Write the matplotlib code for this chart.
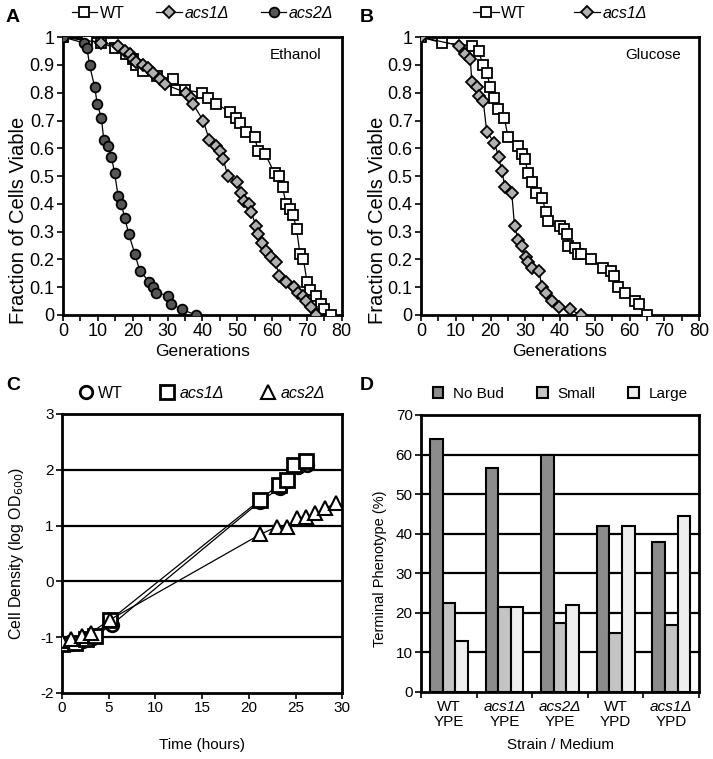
import numpy as np
import matplotlib
matplotlib.use("Agg")
import matplotlib.pyplot as plt
from matplotlib.ticker import MultipleLocator, FormatStrFormatter

plt.rcParams["font.family"] = ["Liberation Sans", "DejaVu Sans"]
plt.rcParams["font.size"] = 11
plt.rcParams["axes.unicode_minus"] = False

# --- A: Ethanol lifespan ---
a_wt_x = [0, 7, 11, 15, 18, 20, 21, 23, 27, 31.5, 32.5, 35, 40, 41.5, 44, 48, 49.7, 50.7, 52.6, 55, 56,
          58, 60.7, 62, 63, 64, 65, 66, 67, 68, 69, 70, 71, 72.6, 74, 75, 77]
a_wt_y = [1.0, 0.99, 0.98, 0.96, 0.94, 0.92, 0.90, 0.88, 0.86, 0.85, 0.81, 0.81, 0.80, 0.78, 0.76, 0.73,
          0.71, 0.69, 0.66, 0.64, 0.59, 0.58, 0.51, 0.50, 0.46, 0.40, 0.38, 0.36, 0.31, 0.22, 0.20, 0.12,
          0.09, 0.07, 0.04, 0.02, 0.0]
a_acs1_x = [0, 11, 15.8, 17.7, 19.1, 20, 21, 23, 24.4, 25.8, 27.7, 29.2, 35.4, 36.8, 37.3, 40.2, 42, 44,
            45, 46, 47.3, 50, 51, 52, 53.4, 54, 55.4, 56, 57, 58.3, 59.7, 61, 62, 63.9, 66.4, 67.4, 68.8,
            69.8, 71.2, 72.7]
a_acs1_y = [1.0, 0.98, 0.97, 0.95, 0.94, 0.92, 0.91, 0.90, 0.89, 0.87, 0.85, 0.83, 0.80, 0.78, 0.76,
            0.70, 0.63, 0.61, 0.59, 0.56, 0.50, 0.48, 0.44, 0.41, 0.40, 0.37, 0.32, 0.29, 0.26, 0.23,
            0.21, 0.19, 0.14, 0.12, 0.10, 0.08, 0.07, 0.05, 0.03, 0.0]
a_acs2_x = [0, 5.9, 6.9, 7.6, 9.1, 9.8, 11, 11.7, 12.9, 13.9, 14.8, 15.8, 16.7, 17.7, 18.9, 20.6, 22,
            24.7, 25.8, 26.8, 30.1, 31.1, 34, 38.2]
a_acs2_y = [1.0, 0.98, 0.96, 0.90, 0.82, 0.76, 0.71, 0.63, 0.61, 0.57, 0.51, 0.43, 0.40, 0.35, 0.29,
            0.22, 0.16, 0.12, 0.10, 0.08, 0.07, 0.04, 0.02, 0.0]

# --- B: Glucose lifespan ---
b_wt_x = [0, 6, 14.6, 16.7, 17.7, 19, 19.9, 20.9, 22.1, 24, 25, 27.8, 29, 30, 30.7, 31.9, 33, 34.9,
          35.9, 36.6, 40, 41, 42, 42.4, 44.3, 45.3, 46, 48.9, 52.4, 54.6, 55.6, 56.7, 58.6, 61.5, 62.7,
          64.9]
b_wt_y = [1.0, 0.98, 0.97, 0.95, 0.90, 0.87, 0.82, 0.78, 0.74, 0.71, 0.64, 0.61, 0.58, 0.56, 0.51,
          0.48, 0.44, 0.42, 0.37, 0.34, 0.32, 0.31, 0.29, 0.25, 0.24, 0.22, 0.22, 0.20, 0.17, 0.16,
          0.14, 0.10, 0.08, 0.05, 0.04, 0.0]
b_acs1_x = [0, 11, 12.7, 14.2, 14.6, 16.1, 16.7, 17.9, 18.9, 21.1, 22.3, 23.2, 24.2, 26.1, 26.9, 28,
            29, 30.1, 30.9, 31.9, 34, 34.7, 35.9, 37.6, 39.7, 42.9, 45.9]
b_acs1_y = [1.0, 0.97, 0.94, 0.92, 0.84, 0.82, 0.79, 0.77, 0.66, 0.62, 0.57, 0.52, 0.46, 0.44, 0.32,
            0.27, 0.25, 0.21, 0.19, 0.17, 0.16, 0.10, 0.08, 0.05, 0.03, 0.02, 0.0]

# --- C: growth ---
c_wt_t = [0, 1, 2.2, 3.3, 5.3, 21.2, 23.3, 24.1, 25.3, 26.2]
c_wt_od = [-1.13, -1.13, -1.07, -1.01, -0.78, 1.43, 1.67, 1.79, 2.05, 2.09]
c_acs1_t = [0, 1.4, 2.6, 3.5, 5.1, 21.2, 23.2, 24.1, 24.8, 26.1]
c_acs1_od = [-1.13, -1.10, -1.04, -0.98, -0.70, 1.46, 1.73, 1.82, 2.09, 2.15]
c_acs2_t = [0, 1, 2.1, 3.1, 5.1, 21.2, 23, 24.1, 25.2, 26.1, 27.1, 28.2, 29.3]
c_acs2_od = [-1.07, -1.04, -0.98, -0.92, -0.69, 0.84, 0.98, 0.98, 1.13, 1.16, 1.22, 1.31, 1.40]

# --- D: terminal phenotype ---
d_strain = ["WT", "acs1Δ", "acs2Δ", "WT", "acs1Δ"]
d_medium = ["YPE", "YPE", "YPE", "YPD", "YPD"]
d_nobud = [64, 56.7, 60, 42, 38]
d_small = [22.5, 21.5, 17.5, 15, 16.8]
d_large = [13, 21.5, 22, 42, 44.5]

fig = plt.figure(figsize=(7.13, 7.59), dpi=100)
axA = fig.add_axes([0.0884, 0.585, 0.391, 0.366])
axB = fig.add_axes([0.5905, 0.585, 0.390, 0.366])
axC = fig.add_axes([0.087, 0.087, 0.393, 0.3676])
axD = fig.add_axes([0.5905, 0.0883, 0.390, 0.365])

diam_c = "#b0b0b0"
circ_c = "#555555"


def style_axes(ax, tsize):
    for s in ax.spines.values():
        s.set_linewidth(2)
    ax.tick_params(direction="out", width=1.2, length=4, labelsize=tsize, pad=2)
    ax.tick_params(which="minor", direction="out", width=1.2, length=4)


def place_labels(ax, xl, yl, xs, ys, ymid=0.5):
    ax.xaxis.set_label_coords(0.5, -xl)
    ax.xaxis.label.set_va("center")
    ax.xaxis.label.set_fontsize(xs)
    ax.yaxis.set_label_coords(-yl, ymid)
    ax.yaxis.label.set_va("center")
    ax.yaxis.label.set_fontsize(ys)


def italic_legend(leg):
    for t in leg.get_texts():
        if t.get_text().startswith("acs"):
            t.set_style("italic")


def survival(ax, series, text, colsp):
    for x, y, kw in series:
        ax.plot(x, y, color="black", lw=0.9, mec="black", mew=1.3, **kw)
    ax.set_xlim(0, 80)
    ax.set_ylim(0, 1)
    ax.xaxis.set_major_locator(MultipleLocator(10))
    ax.xaxis.set_minor_locator(MultipleLocator(5))
    ax.yaxis.set_major_locator(MultipleLocator(0.1))
    ax.yaxis.set_major_formatter(FormatStrFormatter("%g"))
    ax.set_xlabel("Generations")
    ax.set_ylabel("Fraction of Cells Viable")
    ax.text(0.835, 0.935, text, transform=ax.transAxes, ha="center", va="center", fontsize=11)
    style_axes(ax, 13)
    leg = ax.legend(loc="center", bbox_to_anchor=(0.5, 1.086), ncol=len(series), frameon=False,
                    handlelength=1.6, columnspacing=colsp, handletextpad=0.15, borderaxespad=0,
                    fontsize=11.5)
    italic_legend(leg)


survival(axA, [
    (a_wt_x, a_wt_y, dict(marker="s", ms=7, mfc="white", label="WT", zorder=3)),
    (a_acs1_x, a_acs1_y, dict(marker="D", ms=6.5, mfc=diam_c, label="acs1Δ", zorder=4)),
    (a_acs2_x, a_acs2_y, dict(marker="o", ms=7, mfc=circ_c, label="acs2Δ", zorder=5)),
], "Ethanol", 2.0)
place_labels(axA, 0.133, 0.161, 12.5, 14.5, 0.34)

survival(axB, [
    (b_wt_x, b_wt_y, dict(marker="s", ms=7, mfc="white", label="WT", zorder=3)),
    (b_acs1_x, b_acs1_y, dict(marker="D", ms=6.5, mfc=diam_c, label="acs1Δ", zorder=4)),
], "Glucose", 3.0)
place_labels(axB, 0.133, 0.155, 12.5, 14.5, 0.34)

# C
axC.plot(c_wt_t, c_wt_od, color="black", lw=0.9, marker="o", ms=9, mfc="white", mec="black",
         mew=2, label="WT", zorder=3)
axC.plot(c_acs1_t, c_acs1_od, color="black", lw=0.9, marker="s", ms=9.5, mfc="white", mec="black",
         mew=2, label="acs1Δ", zorder=4)
axC.plot(c_acs2_t, c_acs2_od, color="black", lw=0.9, marker="^", ms=10, mfc="white", mec="black",
         mew=1.5, label="acs2Δ", zorder=5)
axC.set_xlim(0, 30)
axC.set_ylim(-2, 3)
axC.xaxis.set_major_locator(MultipleLocator(5))
axC.yaxis.set_major_locator(MultipleLocator(1))
for yv in (-1, 0, 1, 2):
    axC.axhline(yv, color="black", lw=1.6, zorder=1)
axC.set_xlabel("Time (hours)")
axC.set_ylabel("Cell Density (log OD$_{600}$)")
style_axes(axC, 11)
place_labels(axC, 0.186, 0.161, 11, 11.5)
legC = axC.legend(loc="center", bbox_to_anchor=(0.5, 1.075), ncol=3, frameon=False,
                  handlelength=0.8, columnspacing=2.4, handletextpad=0.35, borderaxespad=0,
                  fontsize=11.5)
for h in legC.legend_handles:
    h.set_linestyle("none")
italic_legend(legC)

# D
x = np.arange(len(d_strain))
w = 0.227
for yv in range(10, 70, 10):
    axD.axhline(yv, color="black", lw=1.6, zorder=1)
axD.bar(x - w, d_nobud, w, color="#8c8c8c", edgecolor="black", lw=1.5, label="No Bud", zorder=3)
axD.bar(x, d_small, w, color="#c4c4c4", edgecolor="black", lw=1.5, label="Small", zorder=3)
axD.bar(x + w, d_large, w, color="#eeeeee", edgecolor="black", lw=1.5, label="Large", zorder=3)
axD.set_xlim(-0.5, len(d_strain) - 0.5)
axD.set_ylim(0, 70)
axD.yaxis.set_major_locator(MultipleLocator(10))
axD.set_xticks(np.arange(len(d_strain) + 1) - 0.5)
axD.set_xticklabels([])
tr = axD.get_xaxis_transform()
for i in range(len(d_strain)):
    axD.text(i, -0.054, d_strain[i], transform=tr, ha="center", va="center", fontsize=11,
             style="italic" if d_strain[i].startswith("acs") else "normal")
    axD.text(i, -0.11, d_medium[i], transform=tr, ha="center", va="center", fontsize=11)
axD.set_xlabel("Strain / Medium")
axD.set_ylabel("Terminal Phenotype (%)")
style_axes(axD, 11)
place_labels(axD, 0.191, 0.147, 11, 10.5, 0.444)
axD.legend(loc="center", bbox_to_anchor=(0.5, 1.076), ncol=3, frameon=False,
           handlelength=0.7, handleheight=0.7, columnspacing=2.2, handletextpad=0.6, borderaxespad=0,
           fontsize=11)

for lbl, (px, py) in zip("ABCD", [(13, 18), (367, 18), (13, 385), (367, 385)]):
    fig.text(px / 713, 1 - py / 759, lbl, fontsize=14, fontweight="bold", ha="center", va="center")

fig.savefig("out.png", dpi=100)
